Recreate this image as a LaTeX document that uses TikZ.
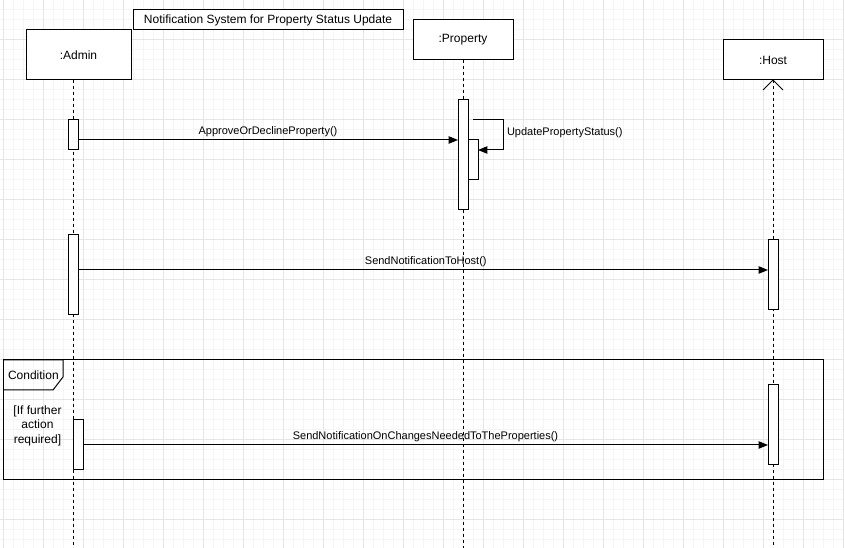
\documentclass[tikz,border=0pt]{standalone}
\usepackage{fontspec}
\setmainfont{Liberation Sans}
\usetikzlibrary{arrows.meta}
\begin{document}
\begin{tikzpicture}[x=0.75pt,y=-0.75pt,
  line width=0.75pt,
  every node/.style={inner sep=0pt, outer sep=0pt},
  participant/.style={draw, fill=white, font=\fontsize{9}{11}\selectfont, minimum width=75pt, minimum height=30pt},
  titlebox/.style={draw, fill=white, font=\fontsize{9}{11}\selectfont, minimum width=202.5pt, minimum height=15pt},
  act/.style={draw, fill=white, minimum width=7.5pt},
  lifeline/.style={dash pattern=on 2.25pt off 2.25pt},
  msg/.style={-{Triangle[length=7pt,width=5.5pt]}},
  lbl/.style={font=\fontsize{8.25}{10}\selectfont, yshift=6.2pt},
  framebox/.style={draw},
  txt/.style={font=\fontsize{9}{11}\selectfont}
]
% canvas and grid
\fill[white] (0,0) rectangle (844,548);
\useasboundingbox (0,0) rectangle (844,548);
\foreach \gx in {3,13,...,843} \draw[gray!8, line width=0.75pt] (\gx,0) -- (\gx,548);
\foreach \gy in {10,20,...,540} \draw[gray!8, line width=0.75pt] (0,\gy) -- (844,\gy);
\foreach \gx in {3,43,...,843} \draw[gray!20, line width=0.75pt] (\gx,0) -- (\gx,548);
\foreach \gy in {40,80,...,540} \draw[gray!20, line width=0.75pt] (0,\gy) -- (844,\gy);

% title
\node[titlebox] (title) at (268,20) {Notification System for Property Status Update};

% participants
\node[participant, minimum width=78.75pt, minimum height=37.5pt] (admin) at (78.5,55) {:Admin};
\node[participant] (property) at (463,40) {:Property};
\node[participant] (host) at (773,60) {:Host};

% lifeline ends
\coordinate (adminTop) at (73,80);
\coordinate (adminEnd) at (73,548);
\coordinate (propEnd) at (463,548);
\coordinate (hostEnd) at (773,548);

\draw[lifeline] (adminTop) -- (adminEnd);
\draw[lifeline] (property.south) -- (propEnd);
\draw[lifeline] (host.south) -- (hostEnd);
\draw ([xshift=-7.5pt,yshift=-7.5pt]host.south) -- (host.south) -- ([xshift=7.5pt,yshift=-7.5pt]host.south);

% combined fragment
\draw[framebox] (3,360) rectangle (823,480);
\coordinate (fragA) at (3,390);
\draw (3,360) -- (63,360) -- (63,377) -- (53,390) -- (fragA);
\node[txt, anchor=west] (cond) at (8,375) {Condition};
\node[txt, align=center, font=\fontsize{9}{10.9}\selectfont] (guard) at (37.5,425.5) {[If further\\action\\required]};

% activations
\node[act, minimum height=22.5pt] (a1) at (73,135) {};
\node[act, minimum height=82.5pt] (p1) at (463,155) {};
\node[act, minimum height=30pt] (p2) at (473,160) {};
\node[act, minimum height=60pt] (a2) at (73,275) {};
\node[act, minimum height=52.5pt] (h1) at (773,275) {};
\node[act, minimum height=37.5pt] (a3) at (78,445) {};
\node[act, minimum height=60pt] (h2) at (773,425) {};

% messages
\draw[msg] (a1.east |- 0,140) -- node[lbl, pos=0.5] {ApproveOrDeclineProperty()} (p1.west |- 0,140);
\coordinate (selfA) at (473,120);
\coordinate (selfB) at (503,120);
\coordinate (selfC) at (503,150);
\draw[msg] (selfA) -- (selfB) -- (selfC) -- (p2.east |- selfC);
\node[anchor=west, font=\fontsize{8.25}{10}\selectfont] (selflbl) at (507,133) {UpdatePropertyStatus()};
\draw[msg] (a2.east |- 0,270) -- node[lbl, pos=0.504] {SendNotificationToHost()} (h1.west |- 0,270);
\draw[msg] (a3.east |- 0,445) -- node[lbl, pos=0.5] {SendNotificationOnChangesNeededToTheProperties()} (h2.west |- 0,445);
\end{tikzpicture}
\end{document}
